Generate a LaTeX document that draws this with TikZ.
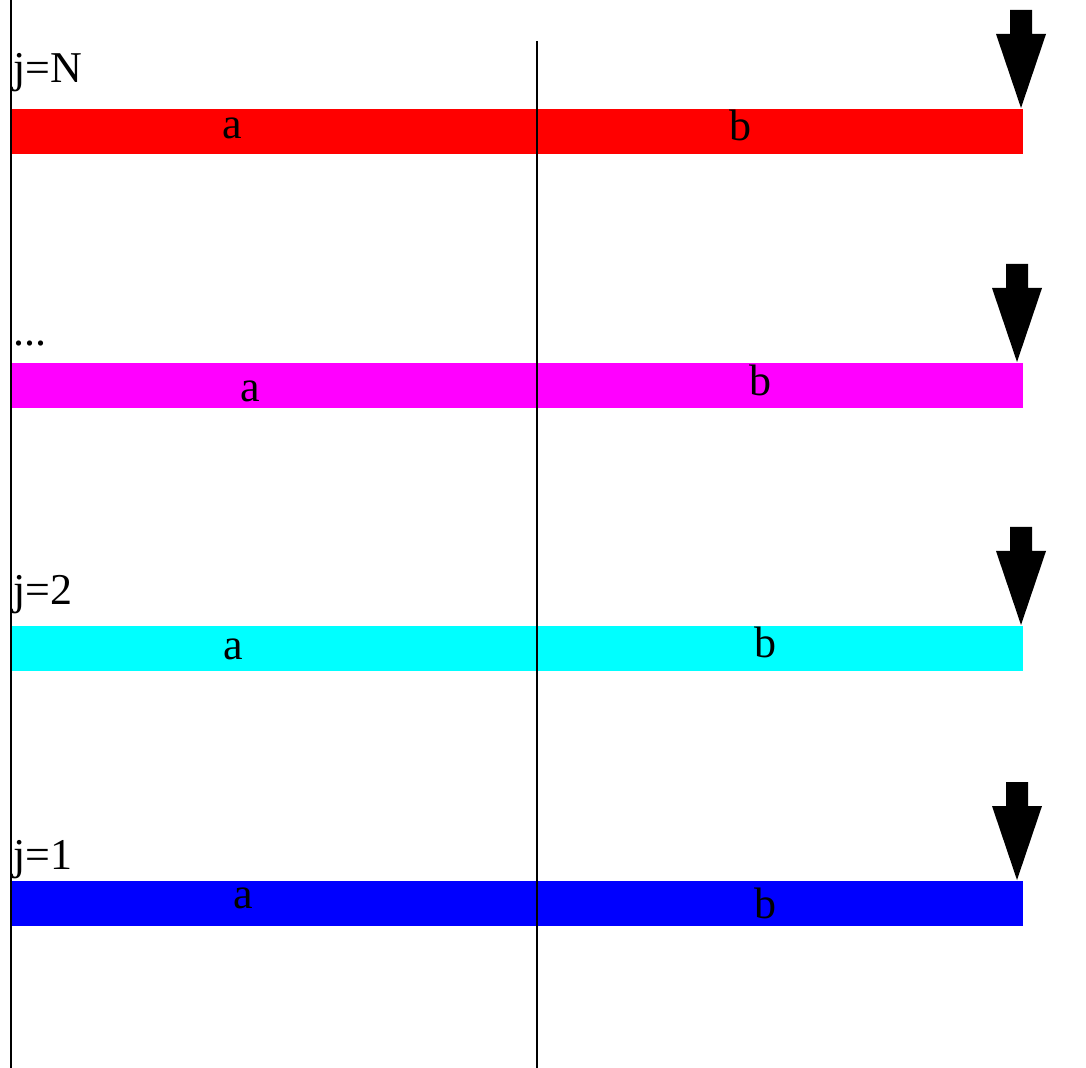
\documentclass[tikz,border=0pt]{standalone}
\usepackage{fontspec}
\setmainfont{Liberation Serif}
\usetikzlibrary{positioning,calc}

\definecolor{levN}{RGB}{255,0,0}
\definecolor{levdots}{RGB}{255,0,255}
\definecolor{levtwo}{RGB}{0,255,255}
\definecolor{levone}{RGB}{0,0,255}

\tikzset{
  lbl/.style={font=\fontsize{22}{26}\selectfont, inner sep=0pt, anchor=base},
  bar/.style={anchor=north west, inner sep=0pt, outer sep=0pt,
              minimum width=506pt, minimum height=22.5pt},
  rule/.style={line width=1pt, black}
}

\begin{document}
\begin{tikzpicture}[x=0.5pt,y=-0.5pt]
\useasboundingbox (0,0) rectangle (1086,1068);

% one row per level j
\foreach \n/\yt/\ly/\lab/\ax/\ay/\bx/\by/\arx in {
    N/109/83/{j=N}/232/139/740/141/1021,
    dots/363/346/{...}/250/402/760/396/1017,
    two/626/604/{j=2}/233/660/765/657/1021,
    one/881/869/{j=1}/243/908/765/918/1017}
{
  \node[bar, fill=lev\n] (bar\n) at (11,\yt) {};
  \node[lbl] (a\n) at (\ax,\ay) {a};
  \node[lbl] (b\n) at (\bx,\by) {b};
  \node[lbl, anchor=base west] (lab\n) at (13,\ly) {\lab};
  \coordinate (tip\n) at (\arx,\yt-1);
  \fill[black] (tip\n) -- +(-25,-74) -- +(-11,-74) -- +(-11,-98)
    -- +(11,-98) -- +(11,-74) -- +(25,-74) -- cycle;
}

\coordinate (lefttop) at (11,0);
\coordinate (leftbot) at (11,1068);
\coordinate (midtop) at (537,41);
\coordinate (midbot) at (537,1068);
\draw[rule] (lefttop) -- (leftbot);
\draw[rule] (midtop) -- (midbot);

\end{tikzpicture}
\end{document}
